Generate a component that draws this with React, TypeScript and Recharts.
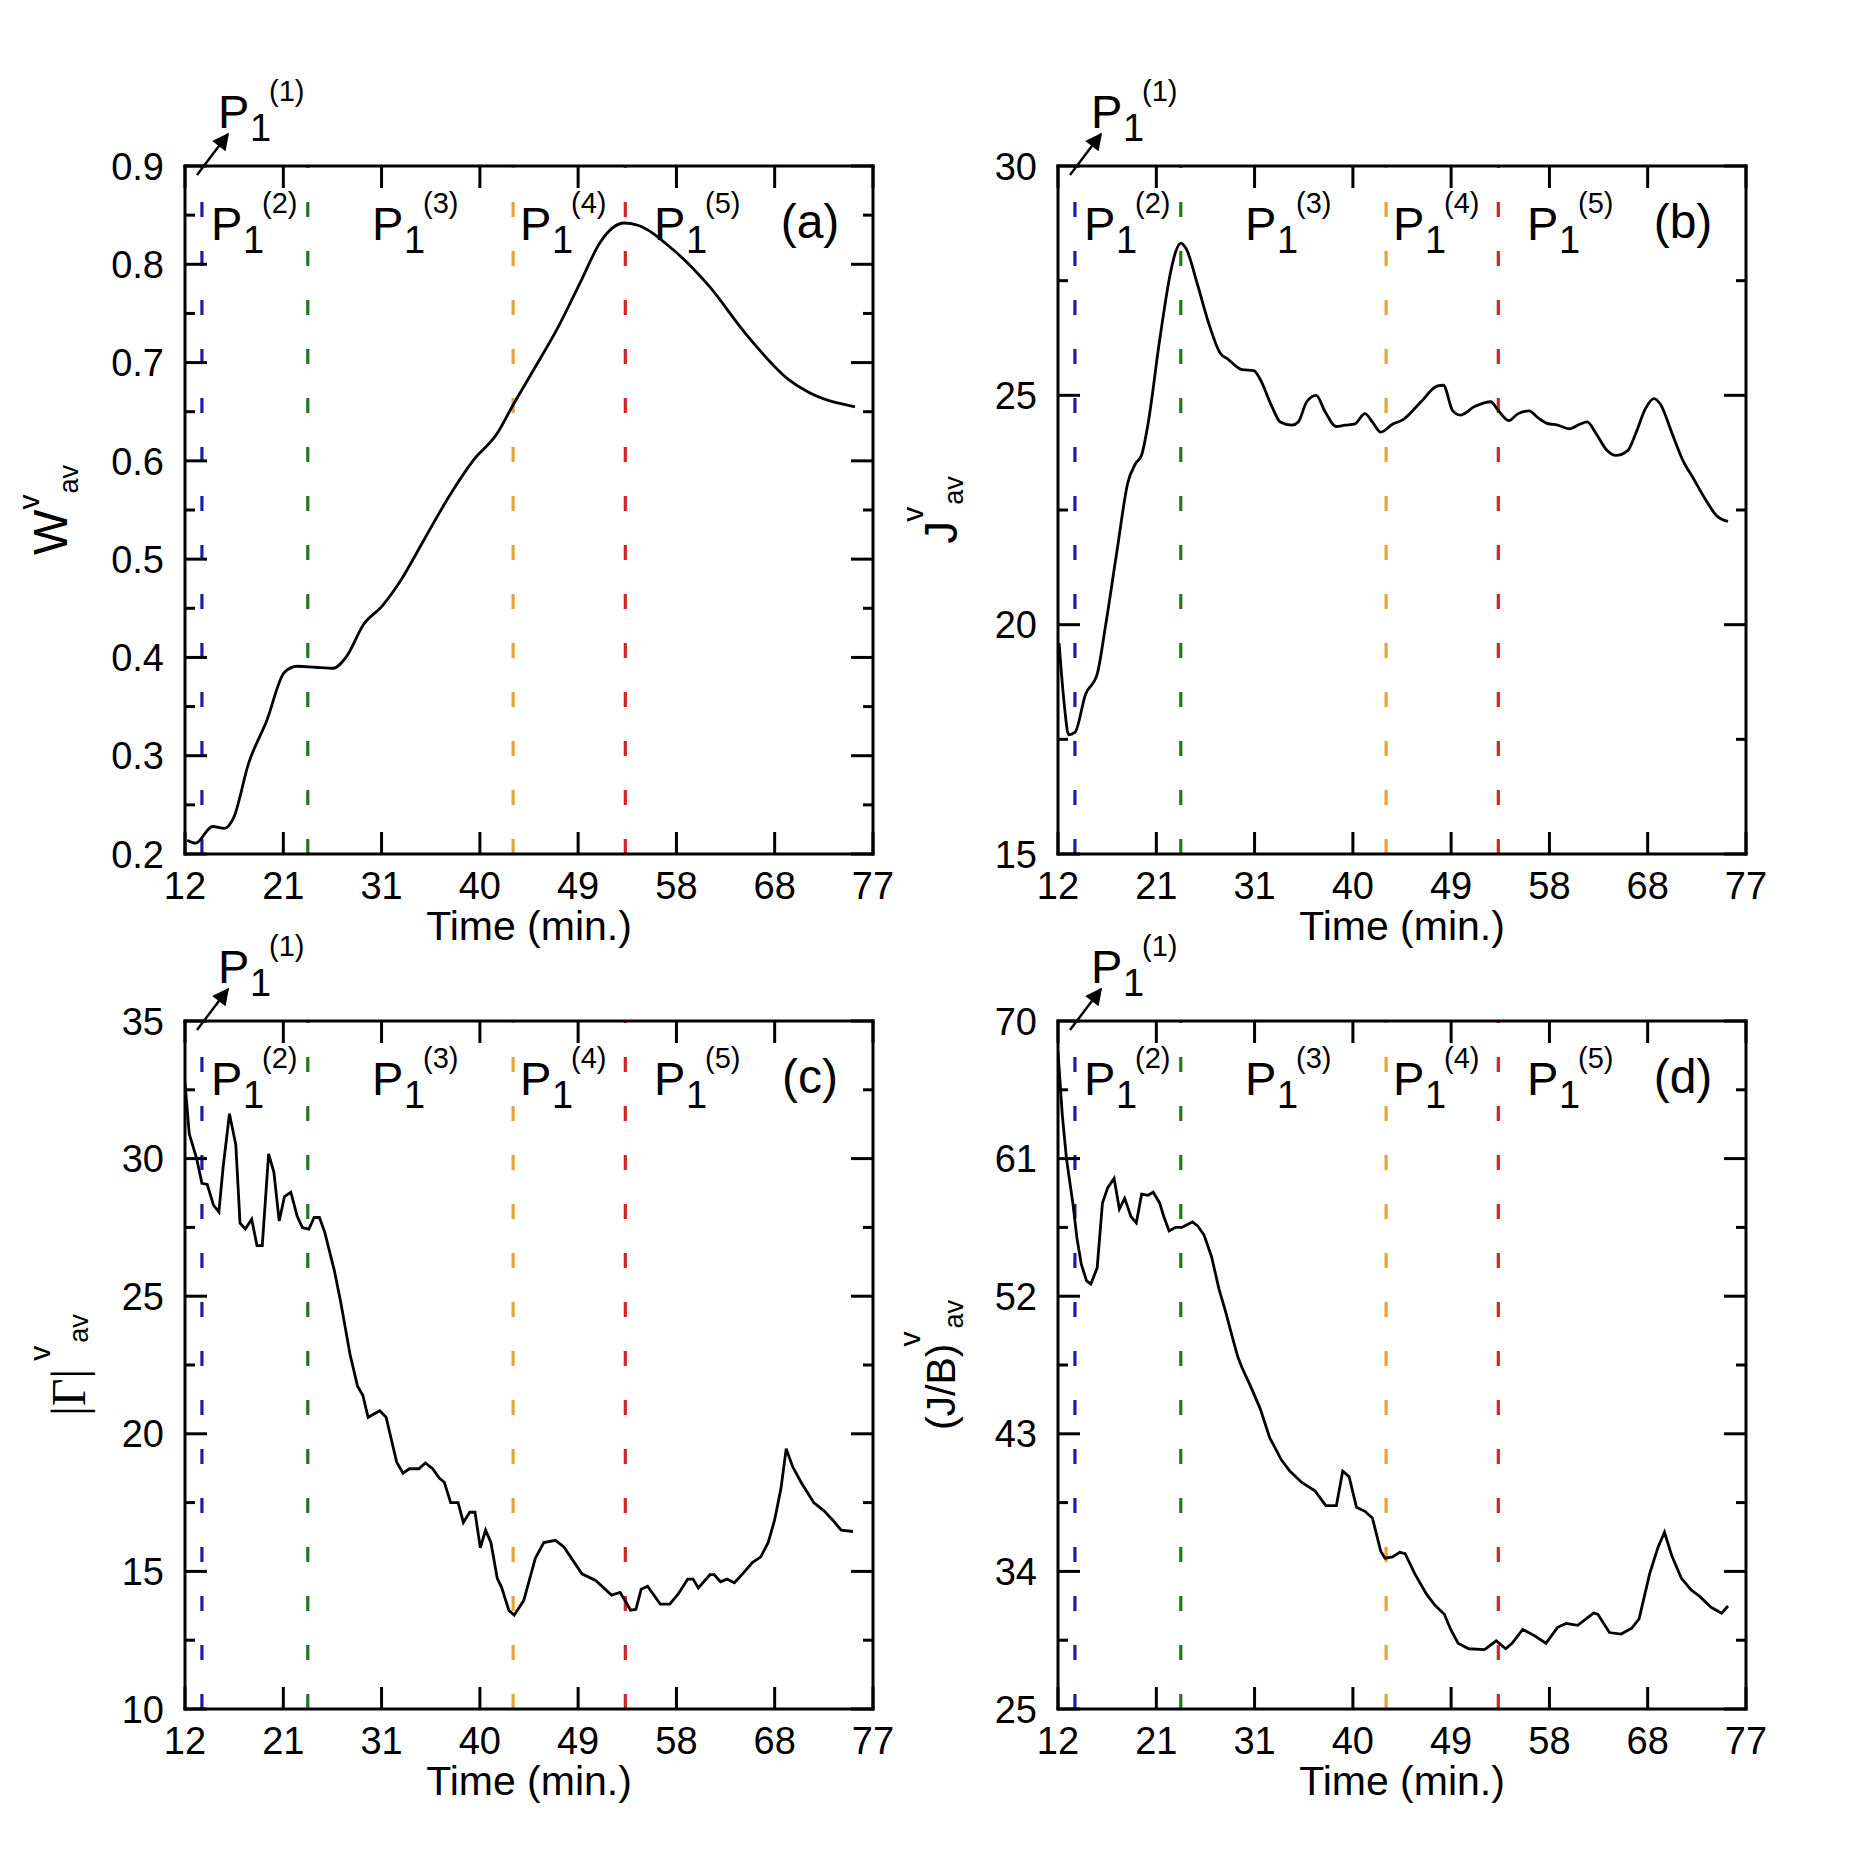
import React from "react";
import { LineChart, Line, XAxis, YAxis, ReferenceLine } from "recharts";

const FONT = "'Liberation Sans', Arial, Helvetica, sans-serif";
const SERIF = "'Liberation Serif', 'Times New Roman', serif";

// shared x axis
const xTickPos = [12, 21.29, 30.57, 39.86, 49.14, 58.43, 67.71, 77];
const xTickLabels = ["12", "21", "31", "40", "49", "58", "68", "77"];

// phase boundaries P1(1)..P1(5)
const markers = [
  { x: 13.6, color: "#1c1ca8" },
  { x: 23.6, color: "#1e7a1e" },
  { x: 43.0, color: "#e6a535" },
  { x: 53.6, color: "#d42424" },
];
const phaseSup = ["(1)", "(2)", "(3)", "(4)", "(5)"];

// (a) W
const timeA = [12.2, 13, 14.6, 15.7, 16.6, 18, 19.7, 21.4, 22.6, 24.3, 26, 27.2, 28.9, 30.6, 32.3, 34.6, 36.9, 39.2, 41.5, 42.9, 44.9, 47.2, 49.5, 51.2, 53.5, 54.7, 58.1, 61.5, 65, 69, 70.7, 75.3];
const wA = [0.214, 0.211, 0.228, 0.226, 0.237, 0.292, 0.335, 0.385, 0.391, 0.39, 0.389, 0.4, 0.434, 0.452, 0.477, 0.52, 0.563, 0.6, 0.628, 0.655, 0.692, 0.735, 0.785, 0.822, 0.842, 0.84, 0.815, 0.778, 0.729, 0.683, 0.671, 0.655];
const yMajorA = [0.2, 0.3, 0.4, 0.5, 0.6, 0.7, 0.8, 0.9];
const yMinorA = [0.25, 0.35, 0.45, 0.55, 0.65, 0.75, 0.85];
const yLabelsA = ["0.2", "0.3", "0.4", "0.5", "0.6", "0.7", "0.8", "0.9"];

// (b) J
const timeB = [12.1, 12.6, 13.0, 13.6, 14.6, 15.7, 16.5, 17.6, 18.6, 19.3, 19.9, 20.5, 21.6, 22.65, 23.1, 23.6, 24.1, 25.2, 26.2, 27.3, 28.1, 29.4, 30.5, 31.1, 32.2, 33.0, 34.1, 34.7, 35.5, 36.4, 37.2, 38.3, 39.1, 40.0, 41.0, 41.7, 42.5, 43.6, 44.6, 46.3, 47.8, 48.4, 49.3, 50.0, 51.4, 52.9, 53.5, 54.6, 55.4, 56.5, 57.3, 58.2, 59.2, 60.3, 61.3, 62.0, 62.8, 63.9, 64.7, 65.8, 66.6, 67.5, 68.3, 68.9, 70.0, 71.0, 72.1, 73.2, 74.2, 75.3];
const jB = [19.6, 18.24, 17.6, 17.65, 18.48, 18.92, 19.99, 21.65, 23.1, 23.5, 23.7, 24.37, 26.2, 27.7, 28.12, 28.32, 28.2, 27.4, 26.6, 25.93, 25.78, 25.56, 25.54, 25.35, 24.76, 24.42, 24.35, 24.42, 24.86, 25.0, 24.66, 24.32, 24.35, 24.37, 24.6, 24.42, 24.2, 24.37, 24.47, 24.86, 25.2, 25.22, 24.66, 24.57, 24.76, 24.86, 24.7, 24.45, 24.59, 24.66, 24.52, 24.39, 24.35, 24.27, 24.37, 24.42, 24.18, 23.79, 23.69, 23.79, 24.18, 24.71, 24.93, 24.81, 24.18, 23.6, 23.16, 22.72, 22.38, 22.25];
const yMajorB = [15, 20, 25, 30];
const yMinorB = [17.5, 22.5, 27.5];
const yLabelsB = ["15", "20", "25", "30"];

// (c) |Gamma|
const timeC = [12.0, 12.4, 13.1, 13.6, 14.1, 14.7, 15.2, 15.6, 16.2, 16.8, 17.2, 17.7, 18.3, 18.8, 19.3, 19.9, 20.4, 20.9, 21.4, 22.0, 22.6, 23.1, 23.7, 24.2, 24.7, 25.2, 26.1, 26.7, 27.6, 28.3, 28.8, 29.3, 30.4, 31.0, 31.6, 32.0, 32.6, 33.2, 34.1, 34.7, 35.4, 36.0, 36.5, 37.1, 37.8, 38.3, 38.9, 39.4, 39.9, 40.4, 40.9, 41.5, 41.9, 42.6, 43.1, 44.0, 45.1, 45.9, 47.0, 47.8, 49.5, 50.8, 52.3, 53.1, 53.7, 54.1, 54.6, 55.1, 55.7, 56.9, 57.8, 58.6, 59.5, 60.0, 60.5, 61.6, 62.0, 62.6, 63.2, 63.9, 64.7, 65.6, 66.4, 67.1, 67.7, 68.3, 68.8, 69.4, 70.2, 71.4, 72.4, 73.2, 74.0, 75.1];
const gC = [32.76, 30.9, 30.0, 29.1, 29.06, 28.3, 28.06, 29.68, 31.63, 30.5, 27.65, 27.44, 27.8, 26.84, 26.84, 30.17, 29.5, 27.73, 28.62, 28.78, 27.9, 27.49, 27.44, 27.86, 27.86, 27.33, 25.95, 24.81, 22.87, 21.73, 21.4, 20.6, 20.84, 20.6, 19.62, 18.97, 18.57, 18.73, 18.73, 18.94, 18.73, 18.4, 18.24, 17.5, 17.5, 16.78, 17.15, 17.15, 15.86, 16.5, 16.05, 14.75, 14.43, 13.58, 13.41, 13.94, 15.48, 16.05, 16.13, 15.89, 14.91, 14.67, 14.14, 14.24, 13.86, 13.59, 13.62, 14.35, 14.46, 13.81, 13.81, 14.18, 14.72, 14.72, 14.4, 14.88, 14.88, 14.62, 14.72, 14.59, 14.92, 15.32, 15.53, 16.05, 16.86, 18.0, 19.46, 18.81, 18.24, 17.5, 17.19, 16.86, 16.5, 16.45];
const yMajorC = [10, 15, 20, 25, 30, 35];
const yMinorC = [12.5, 17.5, 22.5, 27.5, 32.5];
const yLabelsC = ["10", "15", "20", "25", "30", "35"];

// (d) J/B
const timeD = [12.0, 12.4, 12.8, 13.4, 13.8, 14.2, 14.7, 15.1, 15.7, 16.2, 16.7, 17.3, 17.8, 18.3, 18.9, 19.4, 19.9, 20.5, 21.0, 21.6, 22.0, 22.5, 23.1, 23.7, 24.7, 25.2, 25.8, 26.5, 27.2, 27.8, 28.6, 29.0, 29.4, 30.2, 31.1, 32.0, 33.1, 33.9, 35.0, 36.3, 37.3, 38.3, 38.9, 39.5, 40.2, 41.0, 41.7, 42.5, 42.9, 43.6, 44.3, 44.8, 45.7, 46.8, 47.6, 48.5, 49.1, 49.8, 50.8, 52.3, 53.4, 54.3, 54.9, 55.9, 57.0, 58.1, 59.2, 60.0, 61.1, 62.6, 63.0, 64.1, 65.2, 66.2, 66.9, 67.9, 68.7, 69.3, 70.0, 70.9, 71.8, 72.6, 73.7, 74.7, 75.3];
const jbD = [68.0, 63.9, 61.0, 58.1, 55.75, 54.1, 53.0, 52.8, 53.85, 58.1, 59.1, 59.7, 57.7, 58.4, 57.2, 56.8, 58.67, 58.6, 58.8, 58.1, 57.2, 56.27, 56.5, 56.5, 56.86, 56.6, 56.0, 54.6, 52.5, 51.07, 49.0, 48.0, 47.3, 46.1, 44.65, 42.75, 41.3, 40.56, 39.83, 39.25, 38.3, 38.3, 40.56, 40.2, 38.2, 37.93, 37.5, 35.3, 34.87, 34.95, 35.25, 35.16, 33.85, 32.53, 31.8, 31.2, 30.2, 29.3, 28.94, 28.88, 29.46, 28.94, 29.3, 30.2, 29.8, 29.3, 30.34, 30.6, 30.47, 31.27, 31.2, 30.0, 29.9, 30.28, 30.9, 33.85, 35.6, 36.56, 35.0, 33.55, 32.8, 32.38, 31.65, 31.27, 31.74];
const yMajorD = [25, 34, 43, 52, 61, 70];
const yMinorD = [29.5, 38.5, 47.5, 56.5, 65.5];
const yLabelsD = ["25", "34", "43", "52", "61", "70"];

const S = 688;
const PAD_L = 175, PAD_T = 115, PAD_R = 45, PAD_B = 105;
const MAJOR = 22, MINOR = 10, AXW = 3;

const isIn = (arr: number[], v: number) => arr.findIndex((m) => Math.abs(m - v) < 1e-6);

function PLabel({ x, y, sup }: { x: number; y: number; sup: string }) {
  return (
    <text x={x} y={y} fontFamily={FONT} fontSize={47} fill="#000">
      P
      <tspan x={x + 32} y={y + 13} fontSize={38}>1</tspan>
      <tspan x={x + 51} y={y - 27} fontSize={29}>{sup}</tspan>
    </text>
  );
}

type Title = { base: string; serif?: boolean; size: number; supDx: number; rise: number; subDx: number; drop: number; dx: number };

function Panel(props: {
  left: number; top: number; times: number[]; values: number[];
  yMajor: number[]; yMinor: number[]; yLabels: string[];
  curve: "linear" | "monotone"; letter: string; title: Title;
}) {
  const { left, top, times, values, yMajor, yMinor, yLabels, curve, letter, title } = props;
  const data = times.map((t, i) => ({ t, v: values[i] }));
  const domain: [number, number] = [yMajor[0], yMajor[yMajor.length - 1]];
  const yTicks = [...yMajor, ...yMinor].sort((a, b) => a - b);
  const W = S + PAD_L + PAD_R, H = S + PAD_T + PAD_B;
  const axisLine = { stroke: "#000", strokeWidth: AXW, strokeLinecap: "square" as const };

  const leftTick = (p: any) => {
    const v = p.payload.value;
    const mi = isIn(yMajor, v);
    const len = mi >= 0 ? MAJOR : MINOR;
    return (
      <g>
        <line x1={p.x} x2={p.x + len} y1={p.y} y2={p.y} stroke="#000" strokeWidth={AXW} />
        {mi >= 0 && (
          <text x={p.x - 21} y={p.y} dy="0.36em" textAnchor="end" fontFamily={FONT} fontSize={38} fill="#000">
            {yLabels[mi]}
          </text>
        )}
      </g>
    );
  };
  const rightTick = (p: any) => {
    const len = isIn(yMajor, p.payload.value) >= 0 ? MAJOR : MINOR;
    return <line x1={p.x} x2={p.x - len} y1={p.y} y2={p.y} stroke="#000" strokeWidth={AXW} />;
  };
  const bottomTick = (p: any) => {
    const i = isIn(xTickPos, p.payload.value);
    return (
      <g>
        <line x1={p.x} x2={p.x} y1={p.y} y2={p.y - MAJOR} stroke="#000" strokeWidth={AXW} />
        <text x={p.x} y={p.y + 45} textAnchor="middle" fontFamily={FONT} fontSize={38} fill="#000">
          {xTickLabels[i]}
        </text>
      </g>
    );
  };
  const topTick = (p: any) => (
    <line x1={p.x} x2={p.x} y1={p.y} y2={p.y + MAJOR} stroke="#000" strokeWidth={AXW} />
  );

  const ox = PAD_L, oy = PAD_T;
  const phaseX = [26, 187, 335, 469];
  return (
    <div style={{ position: "absolute", left: left - PAD_L, top: top - PAD_T, width: W, height: H }}>
      <LineChart width={W} height={H} data={data}
        margin={{ top: PAD_T - 20, right: PAD_R - 20, bottom: PAD_B - 60, left: PAD_L - 100 }}>
        <XAxis xAxisId="b" dataKey="t" type="number" domain={[12, 77]} allowDataOverflow ticks={xTickPos}
          interval={0} tickSize={0} tickMargin={0} tickLine={false} axisLine={axisLine} height={60} tick={bottomTick} />
        <XAxis xAxisId="t" orientation="top" dataKey="t" type="number" domain={[12, 77]} allowDataOverflow ticks={xTickPos}
          interval={0} tickSize={0} tickMargin={0} tickLine={false} axisLine={axisLine} height={20} tick={topTick} />
        <YAxis yAxisId="l" type="number" domain={domain} allowDataOverflow ticks={yTicks}
          interval={0} tickSize={0} tickMargin={0} tickLine={false} axisLine={axisLine} width={100} tick={leftTick} />
        <YAxis yAxisId="r" orientation="right" type="number" domain={domain} allowDataOverflow ticks={yTicks}
          interval={0} tickSize={0} tickMargin={0} tickLine={false} axisLine={axisLine} width={20} tick={rightTick} />
        {markers.map((m) => (
          <ReferenceLine key={m.x} xAxisId="b" yAxisId="l" x={m.x} stroke={m.color} strokeWidth={3.2} strokeDasharray="15 34" />
        ))}
        <Line xAxisId="b" yAxisId="l" dataKey="v" type={curve} stroke="#000" strokeWidth={2.8}
          dot={false} activeDot={false} isAnimationActive={false} />
      </LineChart>
      <svg width={W} height={H} style={{ position: "absolute", left: 0, top: 0, pointerEvents: "none" }}>
        <defs>
          <marker id={`arr-${letter}`} viewBox="0 0 10 10" refX="9" refY="5" markerWidth="8" markerHeight="7"
            markerUnits="strokeWidth" orient="auto">
            <path d="M0,0 L10,5 L0,10 z" fill="#000" />
          </marker>
        </defs>
        <line x1={ox + 12} y1={oy + 9} x2={ox + 43} y2={oy - 32} stroke="#000" strokeWidth={2.4}
          markerEnd={`url(#arr-${letter})`} />
        <PLabel x={ox + 33} y={oy - 38} sup={phaseSup[0]} />
        {phaseX.map((px, i) => (
          <PLabel key={px} x={ox + px} y={oy + 74} sup={phaseSup[i + 1]} />
        ))}
        <text x={ox + 625} y={oy + 72} textAnchor="middle" fontFamily={FONT} fontSize={48} fill="#000">
          ({letter})
        </text>
        <text x={ox + S / 2} y={oy + S + 86} textAnchor="middle" fontFamily={FONT} fontSize={41} fill="#000">
          Time (min.)
        </text>
        <text transform={`translate(${ox + title.dx},${oy + S / 2}) rotate(-90)`} textAnchor="middle"
          fontFamily={FONT} fontSize={title.size} fill="#000">
          <tspan fontFamily={title.serif ? SERIF : FONT}>{title.base}</tspan>
          <tspan dx={title.supDx} dy={-title.rise} fontSize={30}>v</tspan>
          <tspan dx={title.subDx} dy={title.rise + title.drop} fontSize={27}>av</tspan>
        </text>
      </svg>
    </div>
  );
}

export default function App() {
  return (
    <div style={{ position: "absolute", left: 0, top: 0, width: 1875, height: 1875, background: "#fff" }}>
      <Panel left={185} top={166} times={timeA} values={wA} yMajor={yMajorA} yMinor={yMinorA} yLabels={yLabelsA}
        curve="monotone" letter="a" title={{ base: "W", size: 48, supDx: 0, rise: 28, subDx: 1, drop: 11, dx: -118 }} />
      <Panel left={1058} top={166} times={timeB} values={jB} yMajor={yMajorB} yMinor={yMinorB} yLabels={yLabelsB}
        curve="monotone" letter="b" title={{ base: "J", size: 46, supDx: -1, rise: 34, subDx: 2, drop: 6, dx: -101 }} />
      <Panel left={185} top={1021} times={timeC} values={gC} yMajor={yMajorC} yMinor={yMinorC} yLabels={yLabelsC}
        curve="linear" letter="c" title={{ base: "|Γ|", serif: true, size: 48, supDx: 8, rise: 35, subDx: 3, drop: 3, dx: -100 }} />
      <Panel left={1058} top={1021} times={timeD} values={jbD} yMajor={yMajorD} yMinor={yMinorD} yLabels={yLabelsD}
        curve="linear" letter="d" title={{ base: "(J/B)", size: 41, supDx: -3, rise: 35, subDx: 3, drop: 8, dx: -103 }} />
    </div>
  );
}
